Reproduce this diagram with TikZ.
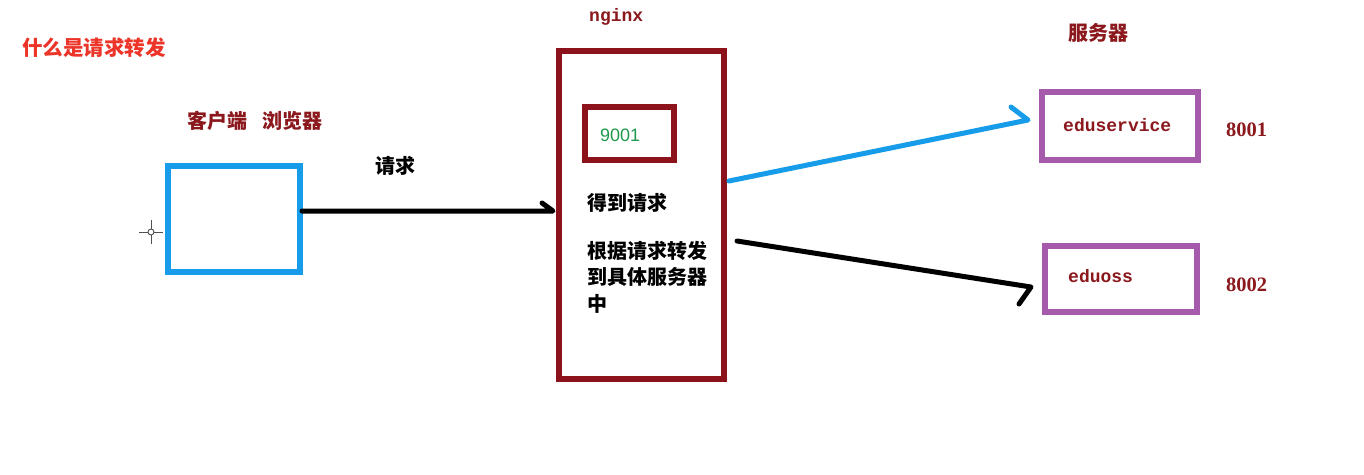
\documentclass[tikz,border=0pt]{standalone}
\usepackage{fontspec}
\newfontfamily\cjk{Noto Sans CJK SC}
\newfontfamily\monob{Liberation Mono Bold}
\newfontfamily\serifd{Liberation Serif Bold}
\newfontfamily\sansd{Liberation Sans}
\definecolor{titlered}{RGB}{236,52,40}
\definecolor{darkred}{RGB}{139,24,28}
\definecolor{boxred}{RGB}{140,18,28}
\definecolor{cblue}{RGB}{22,156,232}
\definecolor{cpurple}{RGB}{166,90,172}
\definecolor{cgreen}{RGB}{30,154,76}
\definecolor{crossgray}{RGB}{80,80,80}
\tikzset{
  lbl/.style={inner sep=0pt, anchor=west},
  cjktext/.style={lbl, font=\cjk\fontsize{20}{26.5}\selectfont\bfseries},
  monotext/.style={lbl, text=darkred, font=\monob\fontsize{18}{20}\selectfont},
  porttext/.style={lbl, text=darkred, font=\serifd\fontsize{20.5}{22}\selectfont},
  boxline/.style={line width=5.5pt},
  conn/.style={line width=5pt, line cap=round, line join=round},
}
\begin{document}
\begin{tikzpicture}[x=1pt,y=-1pt]
\useasboundingbox[fill=white] (0,0) rectangle (1364,474);

% title
\node[cjktext, text=titlered, font=\cjk\fontsize{20.5}{24}\selectfont\bfseries] (title) at (22,48) {什么是请求转发};

% client
\node[cjktext, text=darkred] (clientlbl) at (187,121) {客户端\hspace{0.75em}浏览器};
\draw[boxline, draw=cblue] (168,166) rectangle (300,272);
\coordinate (clientR) at (302,211);
\node[draw=crossgray, circle, line width=0.9pt, inner sep=0pt, minimum size=6pt] (cross) at (151,232) {};
\draw[crossgray, line width=1pt] (139,232) -- (cross.west) (cross.east) -- (163,232)
  (151,220) -- (cross.north) (cross.south) -- (151,244);

% request label
\node[cjktext, text=black] (req) at (375,166) {请求};

% nginx
\node[monotext] (nginxlbl) at (589,17) {nginx};
\draw[boxline, draw=boxred] (559,51) rectangle (724,379);
\draw[boxline, draw=boxred] (585,107) rectangle (674,160);
\node[lbl, text=cgreen, font=\sansd\fontsize{18}{20}\selectfont] (port9001) at (600,135) {9001};
\node[cjktext, text=black] (get) at (587,203) {得到请求};
\node[cjktext, text=black, align=left, anchor=north west] (fwd) at (587,241)
  {根据请求转发\\到具体服务器\\中};

% servers
\node[cjktext, text=darkred] (srvlbl) at (1068,33) {服务器};
\draw[boxline, draw=cpurple] (1042,92) rectangle (1198,160);
\node[monotext] (edus) at (1063,125) {eduservice};
\node[porttext] (p8001) at (1226,130) {8001};
\draw[boxline, draw=cpurple] (1045,246) rectangle (1197,312);
\node[monotext] (eduoss) at (1068,276) {eduoss};
\node[porttext] (p8002) at (1226,285) {8002};

% connectors
\coordinate (a1e) at (553,211);
\coordinate (a1h) at (542,203);
\draw[conn, black] (clientR) -- (a1e) -- (a1h);

\coordinate (a2s) at (729,181);
\coordinate (a2e) at (1028,120);
\coordinate (a2h) at (1011,107);
\draw[conn, cblue] (a2s) -- (a2e) -- (a2h);

\coordinate (a3s) at (737,241);
\coordinate (a3e) at (1031,287);
\coordinate (a3h) at (1019,304);
\draw[conn, black] (a3s) -- (a3e) -- (a3h);
\end{tikzpicture}
\end{document}
